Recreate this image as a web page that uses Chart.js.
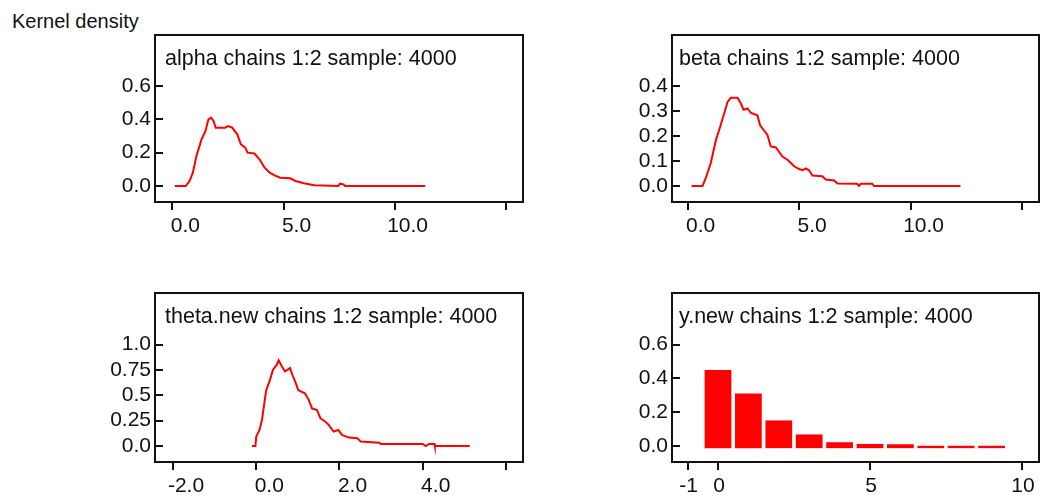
<!DOCTYPE html>
<html><head><meta charset="utf-8">
<script src="https://cdn.jsdelivr.net/npm/chart.js@4"></script>
<style>
html,body{margin:0;padding:0;background:#fff;}
body{width:1041px;height:496px;position:relative;overflow:hidden;font-family:"Liberation Sans",Arial,sans-serif;}
.panel{position:absolute;}
#klabel{position:absolute;left:12px;top:11px;font-size:20px;line-height:20px;color:#111;white-space:nowrap;}
</style></head><body>
<div id="klabel">Kernel density</div>
<div class="panel" id="p1"><canvas id="c1"></canvas></div>
<div class="panel" id="p2"><canvas id="c2"></canvas></div>
<div class="panel" id="p3"><canvas id="c3"></canvas></div>
<div class="panel" id="p4"><canvas id="c4"></canvas></div>
<script>
// ---- data ----
const alphaTitle = 'alpha chains 1:2 sample: 4000';
const alphaX = [0.11,0.6,0.77,0.92,1.08,1.31,1.49,1.62,1.74,1.85,1.95,2.38,2.5,2.69,2.92,3.08,3.28,3.38,3.69,3.92,4.15,4.38,4.6,4.85,5.3,5.54,5.92,6.38,7.46,7.54,7.7,7.77,11.38];
const alphaY = [0,0,0.03,0.08,0.18,0.28,0.33,0.40,0.41,0.39,0.35,0.35,0.36,0.35,0.31,0.25,0.23,0.20,0.195,0.16,0.11,0.08,0.064,0.05,0.046,0.03,0.016,0.004,0,0.014,0.01,0,0];
const alphaXTicks = [0,5,10,15];
const alphaXLabels = ['0.0','5.0','10.0',''];
const alphaYTicks = [0,0.2,0.4,0.6];
const alphaYLabels = ['0.0','0.2','0.4','0.6'];

const betaTitle = 'beta chains 1:2 sample: 4000';
const betaX = [0.18,0.67,0.82,1.04,1.27,1.46,1.64,1.79,1.94,2.24,2.39,2.51,2.69,2.84,3.13,3.25,3.58,3.73,3.96,4.25,4.48,4.78,5.0,5.15,5.3,5.45,5.6,6.04,6.2,6.57,6.72,7.6,7.69,7.76,8.28,8.36,12.24];
const betaY = [0,0,0.033,0.092,0.184,0.237,0.29,0.336,0.353,0.353,0.33,0.305,0.31,0.292,0.283,0.243,0.204,0.158,0.154,0.118,0.105,0.079,0.068,0.063,0.07,0.063,0.042,0.039,0.026,0.022,0.01,0.009,0,0.009,0.009,0,0];
const betaXTicks = [0,5,10,15];
const betaXLabels = ['0.0','5.0','10.0',''];
const betaYTicks = [0,0.1,0.2,0.3,0.4];
const betaYLabels = ['0.0','0.1','0.2','0.3','0.4'];

const thetaTitle = 'theta.new chains 1:2 sample: 4000';
const thetaX = [-0.105,-0.02,0,0.08,0.14,0.2,0.24,0.32,0.4,0.49,0.54,0.61,0.69,0.75,0.81,0.87,0.95,1.01,1.17,1.26,1.34,1.46,1.54,1.66,1.74,1.86,1.97,2.06,2.23,2.43,2.51,2.96,3.0,4.0,4.07,4.15,4.28,4.29,5.13];
const thetaY = [0,0,0.092,0.16,0.26,0.44,0.55,0.64,0.75,0.8,0.845,0.79,0.735,0.75,0.77,0.7,0.62,0.55,0.52,0.455,0.37,0.355,0.274,0.24,0.208,0.142,0.158,0.109,0.083,0.076,0.043,0.033,0.02,0.02,0,0.02,0.02,0,0];
const thetaXTicks = [-2,0,2,4,6];
const thetaXLabels = ['-2.0','0.0','2.0','4.0',''];
const thetaYTicks = [0,0.25,0.5,0.75,1.0];
const thetaYLabels = ['0.0','0.25','0.5','0.75','1.0'];

const ynewTitle = 'y.new chains 1:2 sample: 4000';
const ynewX = [0,1,2,3,4,5,6,7,8,9];
const ynewY = [0.449,0.31,0.151,0.068,0.022,0.012,0.010,0.001,0.001,0.001];
const ynewBase = -0.013;
const ynewXTicks = [-1,0,5,10];
const ynewXLabels = ['-1','0','5','10'];
const ynewYTicks = [0,0.2,0.4,0.6];
const ynewYLabels = ['0.0','0.2','0.4','0.6'];

// ---- layout / style ----
const FONT = '"Liberation Sans", Arial, sans-serif';
const FS = 21;
const TFS = 21.5;
const RED = '#ff0000';
const INK = '#111111';
const YW = 90, XH = 40, PT = 4, PR = 4;

const panels = [
  {el:'p1', cv:'c1', box:[155,35,523,202], xr:[-0.784,15.78], yr:[-0.096,0.906], xt:alphaXTicks, xl:alphaXLabels, yt:alphaYTicks, yl:alphaYLabels, title:alphaTitle, tdx:10, lo:13, kind:'line', xs:alphaX, ys:alphaY},
  {el:'p2', cv:'c2', box:[672,35,1039,202], xr:[-0.70,15.76], yr:[-0.064,0.604], xt:betaXTicks, xl:betaXLabels, yt:betaYTicks, yl:betaYLabels, title:betaTitle, tdx:7, lo:13, kind:'line', xs:betaX, ys:betaY},
  {el:'p3', cv:'c3', box:[155,293,523,462], xr:[-2.433,6.41], yr:[-0.158,1.509], xt:thetaXTicks, xl:thetaXLabels, yt:thetaYTicks, yl:thetaYLabels, title:thetaTitle, tdx:10, lo:13, kind:'line', xs:thetaX, ys:thetaY},
  {el:'p4', cv:'c4', box:[672,293,1039,462], xr:[-1.513,10.56], yr:[-0.095,0.905], xt:ynewXTicks, xl:ynewXLabels, yt:ynewYTicks, yl:ynewYLabels, title:ynewTitle, tdx:7, lo:1, kind:'bar', xs:ynewX, ys:ynewY}
];

const framePlugin = {
  id:'frame',
  afterDraw(chart, args, opts){
    const {ctx, chartArea:a} = chart;
    const ys = chart.scales.y;
    ctx.save();
    ctx.strokeStyle = INK;
    ctx.lineWidth = 2;
    ys.ticks.forEach(t => {
      const y = Math.round(ys.getPixelForValue(t.value));
      ctx.beginPath();
      ctx.moveTo(a.left, y);
      ctx.lineTo(a.left + 8, y);
      ctx.stroke();
    });
    ctx.strokeRect(Math.round(a.left), Math.round(a.top), Math.round(a.right - a.left), Math.round(a.bottom - a.top));
    ctx.fillStyle = INK;
    ctx.font = TFS + 'px ' + FONT;
    ctx.textBaseline = 'alphabetic';
    ctx.textAlign = 'left';
    ctx.fillText(opts.text, a.left + opts.dx, a.top + 30);
    ctx.restore();
  }
};

panels.forEach(p => {
  const [l,t,r,b] = p.box;
  const div = document.getElementById(p.el);
  div.style.left = (l - YW) + 'px';
  div.style.top = (t - PT) + 'px';
  div.style.width = (r - l + YW + PR) + 'px';
  div.style.height = (b - t + PT + XH) + 'px';

  const isBar = p.kind === 'bar';
  const data = isBar
    ? p.xs.map((x,i) => ({x:x, y:[ynewBase, p.ys[i]]}))
    : p.xs.map((x,i) => ({x:x, y:p.ys[i]}));

  new Chart(document.getElementById(p.cv), {
    type: isBar ? 'bar' : 'line',
    data: {datasets:[ isBar ? {
        data, backgroundColor:RED, borderWidth:0, barPercentage:0.88, categoryPercentage:1.0
      } : {
        data, borderColor:RED, borderWidth:2, pointRadius:0, tension:0, fill:false
      }]},
    options: {
      responsive:true, maintainAspectRatio:false, animation:false,
      layout:{padding:{top:PT, right:PR, left:0, bottom:0}},
      plugins:{legend:{display:false}, tooltip:{enabled:false}, title:{display:false}, frame:{text:p.title, dx:p.tdx}},
      scales:{
        x:{type:'linear', position:'bottom', min:p.xr[0], max:p.xr[1], offset:false,
           afterBuildTicks: s => { s.ticks = p.xt.map(v => ({value:v})); },
           ticks:{autoSkip:false, maxRotation:0, padding:4, labelOffset:p.lo, color:INK, font:{family:FONT, size:FS},
                  callback:(v,i) => p.xl[i]},
           grid:{display:true, offset:false, drawOnChartArea:false, drawTicks:true, tickLength:8, lineWidth:2, color:INK},
           border:{display:false},
           afterFit: s => { s.height = XH; s.paddingLeft = 0; s.paddingRight = 0; s.paddingTop = 0; s.paddingBottom = 0; }
        },
        y:{type:'linear', position:'left', min:p.yr[0], max:p.yr[1],
           afterBuildTicks: s => { s.ticks = p.yt.map(v => ({value:v})); },
           ticks:{autoSkip:false, padding:4, color:INK, font:{family:FONT, size:FS},
                  callback:(v,i) => p.yl[i]},
           grid:{display:false, drawTicks:false},
           border:{display:false},
           afterFit: s => { s.width = YW; s.paddingLeft = 0; s.paddingRight = 0; s.paddingTop = 0; s.paddingBottom = 0; }
        }
      }
    },
    plugins:[framePlugin]
  });
});
</script>
</body></html>
